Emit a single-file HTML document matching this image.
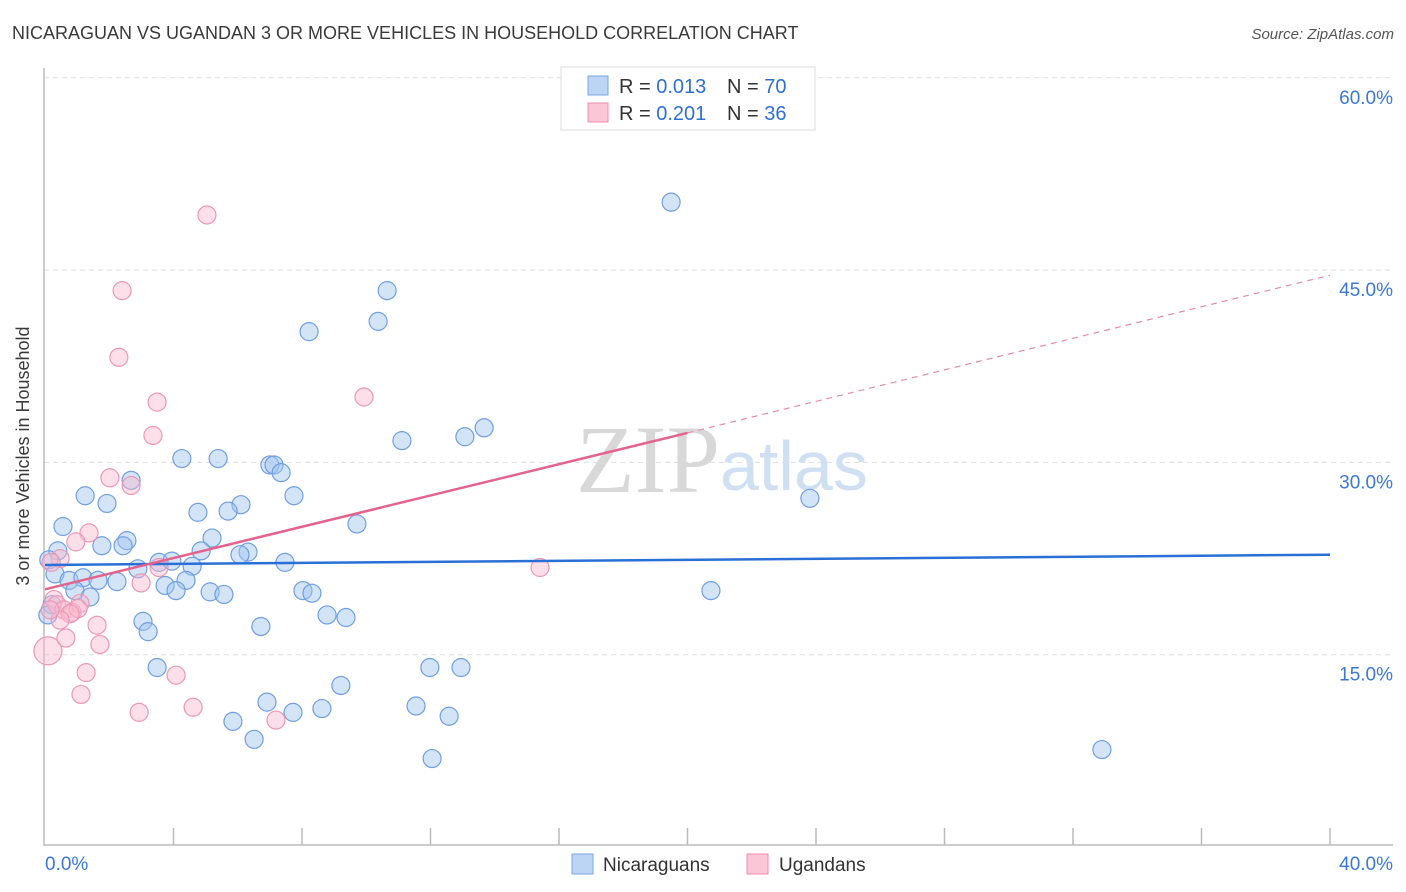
<!DOCTYPE html>
<html><head><meta charset="utf-8"><style>
body{margin:0;background:#fff;font-family:"Liberation Sans",sans-serif;}
svg{display:block}
</style></head><body>
<svg id="chart" width="1406" height="892">
<text x="12" y="39" font-size="18" fill="#3a3a3a">NICARAGUAN VS UGANDAN 3 OR MORE VEHICLES IN HOUSEHOLD CORRELATION CHART</text>
<text x="1394" y="39" font-size="15" fill="#555" font-style="italic" text-anchor="end">Source: ZipAtlas.com</text>
<g id="grid"></g>
<text x="720" y="492" font-size="96" fill="#d8d8d8" text-anchor="end" font-family="Liberation Serif">ZIP</text>
<text x="720" y="490" font-size="70" fill="#cfe0f3">atlas</text>
<g id="axes"></g>
<g id="pts"></g>
<g id="lines"></g>
<text x="29" y="456" font-size="18" fill="#3a3a3a" text-anchor="middle" transform="rotate(-90 29 456)">3 or more Vehicles in Household</text>
<g>
<rect x="561" y="67" width="254" height="63" fill="#fff" stroke="#ddd"/>
<rect x="588" y="76" width="20" height="19" fill="#bcd5f5" stroke="#7aa6e0"/>
<rect x="588" y="103" width="20" height="19" fill="#fbc6d6" stroke="#eb8fae"/>
<text x="619" y="93" font-size="20" fill="#333">R = <tspan fill="#2f6fd3">0.013</tspan><tspan x="727">N = </tspan><tspan fill="#2f6fd3">70</tspan></text>
<text x="619" y="120" font-size="20" fill="#333">R = <tspan fill="#2f6fd3">0.201</tspan><tspan x="727">N = </tspan><tspan fill="#2f6fd3">36</tspan></text>
</g>
<g>
<rect x="572" y="854" width="21" height="20" fill="#bcd5f5" stroke="#7aa6e0"/>
<text x="603" y="871" font-size="19" fill="#333">Nicaraguans</text>
<rect x="747" y="854" width="21" height="20" fill="#fbc6d6" stroke="#eb8fae"/>
<text x="779" y="871" font-size="19" fill="#333">Ugandans</text>
</g>
</svg>
<script>
const yTicks=[15,30,45,60];
const yTickLabels=["15.0%","30.0%","45.0%","60.0%"];
const xEndLabels=["0.0%","40.0%"];
const blueX=[19.49,10.65,10.37,8.22,13.67,13.07,11.11,4.26,5.39,7.00,7.13,7.35,2.68,1.25,7.75,1.93,6.10,4.76,5.70,23.81,0.56,9.71,2.55,1.77,2.43,5.20,0.40,0.12,4.86,6.32,3.55,3.95,4.58,6.07,7.47,2.89,0.31,0.75,1.18,1.65,2.24,4.39,3.74,0.93,4.08,5.14,5.57,8.03,8.31,1.40,20.73,0.22,0.09,3.05,3.21,8.78,9.37,6.72,3.49,11.98,12.95,9.21,6.91,11.55,8.62,7.72,12.58,5.85,6.51,12.05,32.90];
const blueY=[50.3,43.4,41.0,40.2,32.7,32.0,31.7,30.3,30.3,29.8,29.8,29.2,28.6,27.4,27.4,26.8,26.7,26.1,26.2,27.2,25.0,25.2,23.9,23.5,23.5,24.1,23.1,22.4,23.1,23.0,22.2,22.3,21.9,22.8,22.2,21.7,21.3,20.8,21.0,20.8,20.7,20.8,20.4,20.0,20.0,19.9,19.7,20.0,19.8,19.5,20.0,18.9,18.1,17.6,16.8,18.1,17.9,17.2,14.0,14.0,14.0,12.6,11.3,11.0,10.8,10.5,10.2,9.8,8.4,6.9,7.6];
const pinkX=[5.04,2.40,2.30,3.49,3.36,9.93,2.02,2.68,1.37,0.96,0.47,0.19,15.41,2.99,3.55,0.28,0.37,1.09,0.59,0.84,1.03,0.78,1.62,0.47,0.65,1.71,0.09,1.28,4.08,1.12,4.61,2.93,7.19,0.16];
const pinkY=[49.3,43.4,38.2,34.7,32.1,35.1,28.8,28.2,24.5,23.8,22.5,22.2,21.8,20.6,21.8,19.3,18.9,19.0,18.5,18.3,18.6,18.2,17.3,17.7,16.3,15.8,15.3,13.6,13.4,11.9,10.9,10.5,9.9,18.5];
const blueTrend=[22.0,22.8];
const pinkTrend=[20.1,32.3,44.6];
const X=v=>45+v*32.125, Y=v=>847-v*12.82;
const NS="http://www.w3.org/2000/svg";
function mk(tag,attrs,parent){const e=document.createElementNS(NS,tag);for(const k in attrs)e.setAttribute(k,attrs[k]);document.getElementById(parent).appendChild(e);return e;}
yTicks.forEach((t,i)=>{
 const g=mk('line',{x1:44,x2:1393,y1:Y(t),y2:Y(t),stroke:'#ddd','stroke-dasharray':'5,4'},'grid');
 
 
 const l=mk('text',{x:1393,y:Y(t)+26,'font-size':19,fill:'#3b78d8','text-anchor':'end'},'grid');
 l.textContent=yTickLabels[i];
 
 
});
const ya=mk('line',{x1:44,x2:44,y1:68,y2:846,stroke:'#bbb','stroke-width':1.5},'axes');


const xa=mk('line',{x1:44,x2:1393,y1:845,y2:845,stroke:'#bbb','stroke-width':1.5},'axes');


for(let i=1;i<=10;i++){const t=mk('line',{x1:X(i*4),x2:X(i*4),y1:828,y2:845,stroke:'#bbb','stroke-width':1.5},'axes');
 
 }
[[0,'start',45],[40,'end',1393]].forEach((d,i)=>{const t=mk('text',{x:d[2],y:870,'font-size':19,fill:'#3b78d8','text-anchor':d[1]},'axes');t.textContent=xEndLabels[i];
 
 });
blueX.forEach((x,i)=>{const c=mk('circle',{cx:X(x),cy:Y(blueY[i]),r:9,fill:'rgba(160,195,238,0.45)',stroke:'#6f9fe0','stroke-width':1.2},'pts');
 
 });
pinkX.forEach((x,i)=>{const c=mk('circle',{cx:X(x),cy:Y(pinkY[i]),r:(i==26?14:9),fill:'rgba(248,185,205,0.45)',stroke:'#eb98b5','stroke-width':1.2},'pts');
 
 });
const bl=mk('line',{x1:X(0),x2:X(40),y1:Y(blueTrend[0]),y2:Y(blueTrend[1]),stroke:'#2a6fd6','stroke-width':2.5},'lines');


const pl=mk('line',{x1:X(0),x2:X(20),y1:Y(pinkTrend[0]),y2:Y(pinkTrend[1]),stroke:'#e5628d','stroke-width':2.5},'lines');


const pd=mk('line',{x1:X(20),x2:X(40),y1:Y(pinkTrend[1]),y2:Y(pinkTrend[2]),stroke:'#e88aa8','stroke-width':1.2,'stroke-dasharray':'6,5'},'lines');


</script>
</body></html>
